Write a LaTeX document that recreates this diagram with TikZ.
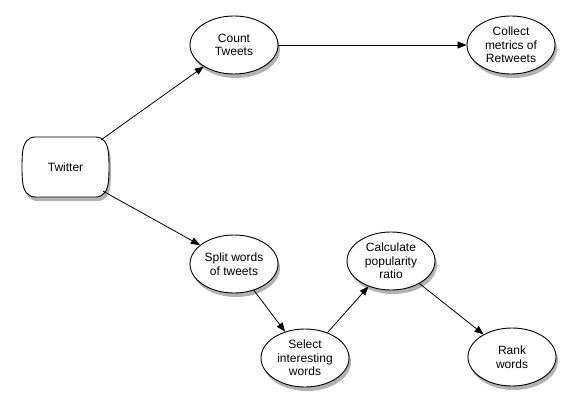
\documentclass[tikz,border=0pt]{standalone}
\usepackage{fontspec}
\setmainfont{Liberation Sans}
\usetikzlibrary{shapes.geometric,shadows,arrows.meta}
\tikzset{
  proc/.style={ellipse, draw=black, line width=0.9pt, fill=white,
    minimum width=88pt, minimum height=58pt, inner sep=0pt, align=center,
    font=\fontsize{12}{13.5}\selectfont,
    drop shadow={shadow xshift=2pt, shadow yshift=-4pt, opacity=0.3, fill=black}},
  src/.style={draw=none, minimum width=87pt, minimum height=60pt, inner sep=0pt,
    font=\fontsize{12}{13.5}\selectfont},
  srcshape/.style={draw=black, line width=0.9pt, fill=white,
    drop shadow={shadow xshift=2pt, shadow yshift=-4pt, opacity=0.3, fill=black}},
  flow/.style={draw=black, line width=0.8pt, -{Triangle[length=9pt,width=7pt]}}
}
\begin{document}
\begin{tikzpicture}[x=1pt,y=-1pt]
\useasboundingbox (0,0) rectangle (575,414);
\fill[white] (0,0) rectangle (575,414);
% Twitter source shape
\coordinate (twc) at (65.5,167);
\begin{scope}[shift={(twc)}]
\draw[srcshape] (-30,-30) -- (30,-30)
  .. controls (38,-30) and (42,-24) .. (43,-14)
  .. controls (43.7,-5) and (43.7,5) .. (43,14)
  .. controls (42,24) and (38,30) .. (30,30)
  -- (-30,30)
  .. controls (-38,30) and (-42,24) .. (-43,14)
  .. controls (-43.7,5) and (-43.7,-5) .. (-43,-14)
  .. controls (-42,-24) and (-38,-30) .. (-30,-30) -- cycle;
\end{scope}
\node[src] (tw) at (twc) {Twitter};
\node[proc] (ct) at (234,45) {Count\\Tweets};
\node[proc] (cm) at (511,45) {Collect\\metrics of\\Retweets};
\node[proc] (sw) at (234,264) {Split words\\of tweets};
\node[proc] (si) at (305,358) {Select\\interesting\\words};
\node[proc] (cp) at (391,261) {Calculate\\popularity\\ratio};
\node[proc] (rw) at (512,357) {Rank\\words};
\coordinate (twa) at ([xshift=-8pt,yshift=-3pt]tw.north east);
\coordinate (twb) at ([xshift=-6pt,yshift=6pt]tw.south east);
\draw[flow] (twa) -- (ct);
\draw[flow] (twb) -- (sw);
\draw[flow] (ct) -- (cm);
\draw[flow] (sw) -- (si);
\draw[flow] (si) -- (cp);
\draw[flow] (cp) -- (rw);
\end{tikzpicture}
\end{document}
